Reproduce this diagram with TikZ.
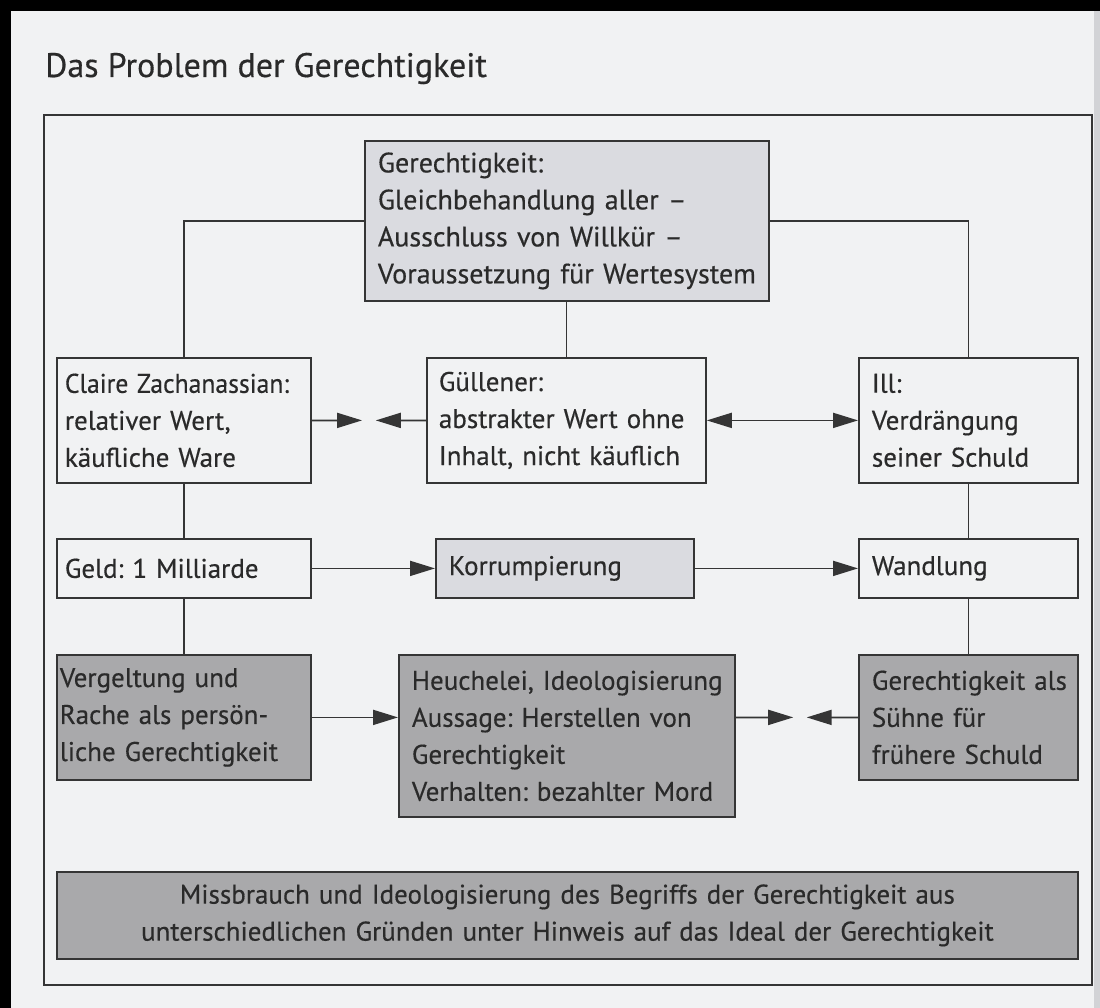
\documentclass[tikz,border=0pt]{standalone}
\usepackage{fontspec}
\usepackage{graphicx}
\setmainfont{PT Sans}[FakeBold=0.4]
\usetikzlibrary{arrows.meta,calc}
\definecolor{paper}{HTML}{F1F2F3}
\definecolor{edge}{HTML}{D2D3D6}
\definecolor{ink}{HTML}{353535}
\definecolor{txt}{HTML}{2A2A2A}
\definecolor{lightbox}{HTML}{DADBE0}
\definecolor{darkbox}{HTML}{A9A9AB}
\frenchspacing
\begin{document}
\begin{tikzpicture}[x=1pt,y=-1pt,
  bx/.style={draw=ink, line width=1.8pt, rectangle, anchor=north west,
    inner xsep=13pt, inner ysep=0pt, align=left, text=txt,
    font=\fontsize{27}{37}\selectfont},
  ln/.style={draw=ink, line width=1.8pt},
  tip/.tip={Triangle[length=25pt,width=15pt]},
  arr/.style={ln, -tip},
  darr/.style={ln, tip-tip}]
\useasboundingbox (0,0) rectangle (1100,1008);
% page
\fill[paper] (0,0) rectangle (1100,1008);
\fill[edge] (1094,11) rectangle (1100,1008);
\fill[black] (0,0) rectangle (1100,11);
\fill[black] (0,0) rectangle (11,1008);

\node[anchor=base west, inner sep=0pt, text=txt, font=\fontsize{34}{40}\selectfont]
  (title) at (45,77) {Das Problem der Gerechtigkeit};

\node[draw=ink, line width=1.8pt, anchor=north west, inner sep=0pt,
  minimum width=1048pt, minimum height=870pt] (outer) at (43,114) {};

% boxes
\node[bx, fill=lightbox, font=\fontsize{28}{37}\selectfont, text width=378pt, minimum height=160pt] (gb) at (364,140)
  {Gerechtigkeit:\\ \mbox{Gleichbehandlung aller --}\\ \mbox{Ausschluss von Willkür --}\\ \mbox{Voraussetzung für Wertesystem}};

\node[bx, inner xsep=8pt, text width=238pt, minimum height=125pt] (claire) at (56,357)
  {\scalebox{0.95}[1]{Claire Zachanassian:}\\ \mbox{relativer Wert,}\\ \mbox{käufliche Ware}};
\node[bx, inner xsep=12pt, text width=255pt, minimum height=125pt] (gu) at (426,357)
  {Güllener:\\ \mbox{abstrakter Wert ohne}\\ \mbox{Inhalt, nicht käuflich}};
\node[bx, text width=193pt, minimum height=125pt] (ill) at (858,357)
  {Ill:\\ Verdrängung\\ \mbox{seiner Schuld}};

\node[bx, inner xsep=8pt, text width=238pt, minimum height=59pt] (geld) at (56,538)
  {\mbox{Geld: 1 Milliarde}};
\node[bx, fill=lightbox, text width=232pt, minimum height=59pt] (korr) at (435,538)
  {Korrumpierung};
\node[bx, text width=193pt, minimum height=59pt] (wand) at (858,538)
  {Wandlung};

\node[bx, fill=darkbox, inner xsep=3pt, text width=248pt, minimum height=125pt] (verg) at (56,654)
  {\mbox{Vergeltung und}\\ \mbox{Rache als persön-}\\ \mbox{liche Gerechtigkeit}};
\node[bx, fill=darkbox, text width=310pt, minimum height=162pt] (heu) at (398,654)
  {\mbox{Heuchelei, Ideologisierung}\\ \mbox{Aussage: Herstellen von}\\ Gerechtigkeit\\ \mbox{Verhalten: bezahlter Mord}};
\node[bx, fill=darkbox, text width=193pt, minimum height=125pt] (gals) at (858,654)
  {\mbox{Gerechtigkeit als}\\ \mbox{Sühne für}\\ \mbox{frühere Schuld}};

\node[bx, fill=darkbox, align=center, inner xsep=9pt, text width=1003pt, minimum height=87pt] (miss) at (56,871)
  {\mbox{Missbrauch und Ideologisierung des Begriffs der Gerechtigkeit aus}\\ \mbox{unterschiedlichen Gründen unter Hinweis auf das Ideal der Gerechtigkeit}};

% connectors
\draw[ln] (gb.west) -| (claire.north);
\draw[ln] (gb.east) -| (ill.north);
\draw[ln] (gu.north) -- (gu.north |- gb.south);
\draw[ln] (claire.south) -- (geld.north);
\draw[ln] (geld.south) -- (verg.north);
\draw[ln] (ill.south) -- (wand.north);
\draw[ln] (wand.south) -- (gals.north);

\draw[arr] (claire.east) -- ($(claire.east)!0.44!(gu.west)$);
\draw[arr] (gu.west) -- ($(gu.west)!0.44!(claire.east)$);
\draw[darr] (gu.east) -- (ill.west);

\draw[arr] (geld.east) -- (korr.west);
\draw[arr] (korr.east) -- (wand.west);

\draw[arr] (verg.east) -- (verg.east -| heu.west);
\draw[arr] (gals.west -| heu.east) -- ($(gals.west -| heu.east)!0.47!(gals.west)$);
\draw[arr] (gals.west) -- ($(gals.west)!0.42!(gals.west -| heu.east)$);
\end{tikzpicture}
\end{document}
